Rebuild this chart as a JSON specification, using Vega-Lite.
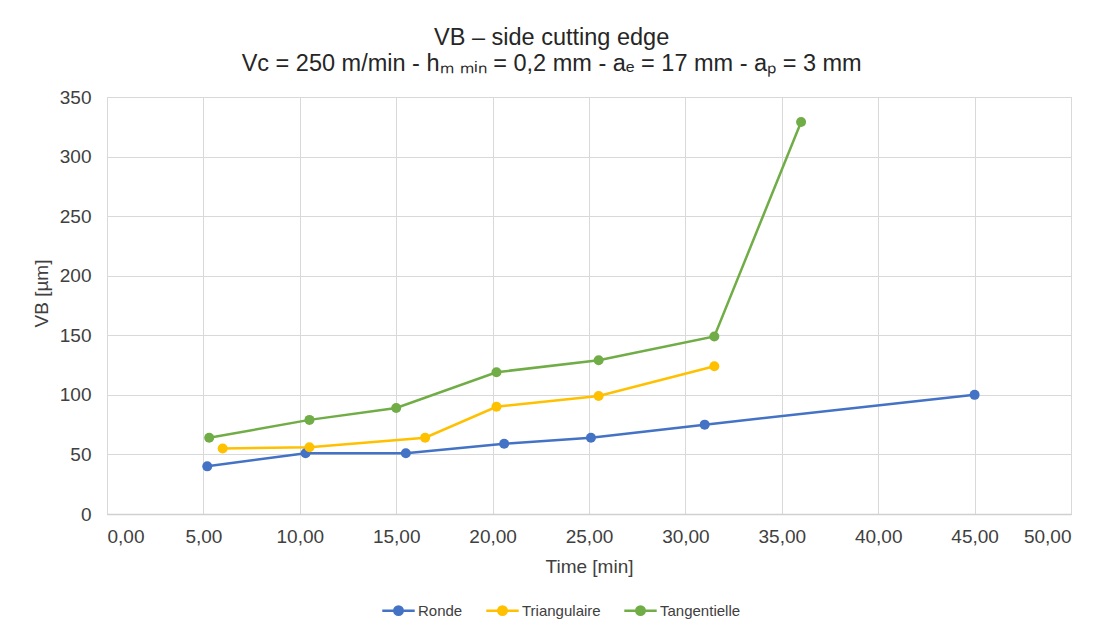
{
  "$schema": "https://vega.github.io/schema/vega-lite/v6.json",
  "width": 964,
  "height": 417,
  "autosize": {"type": "none"},
  "padding": {"left": 107, "top": 97, "right": 43, "bottom": 116},
  "background": "white",
  "title": {
    "text": ["VB – side cutting edge", "Vc = 250 m/min - hₘ ₘᵢₙ = 0,2 mm - aₑ = 17 mm - aₚ = 3 mm"],
    "font": "Liberation Sans",
    "fontSize": 23.5,
    "fontWeight": "normal",
    "color": "#262626",
    "lineHeight": 26,
    "frame": "bounds",
    "anchor": "middle",
    "offset": 13
  },
  "config": {
    "font": "Liberation Sans",
    "view": {"stroke": "#D9D9D9", "strokeWidth": 1},
    "axis": {
      "labelFont": "Liberation Sans",
      "labelFontSize": 19,
      "labelColor": "#404040",
      "titleFont": "Liberation Sans",
      "titleFontSize": 19,
      "titleFontWeight": "normal",
      "titleColor": "#404040",
      "gridColor": "#D9D9D9",
      "gridWidth": 1,
      "ticks": false,
      "domain": false
    }
  },
  "data": {
    "values": [
      {"series": "Ronde", "time": 5.2, "vb": 40},
      {"series": "Ronde", "time": 10.3, "vb": 51},
      {"series": "Ronde", "time": 15.5, "vb": 51},
      {"series": "Ronde", "time": 20.6, "vb": 59},
      {"series": "Ronde", "time": 25.1, "vb": 64},
      {"series": "Ronde", "time": 31.0, "vb": 75},
      {"series": "Ronde", "time": 45.0, "vb": 100},
      {"series": "Triangulaire", "time": 6.0, "vb": 55},
      {"series": "Triangulaire", "time": 10.5, "vb": 56},
      {"series": "Triangulaire", "time": 16.5, "vb": 64},
      {"series": "Triangulaire", "time": 20.2, "vb": 90},
      {"series": "Triangulaire", "time": 25.5, "vb": 99},
      {"series": "Triangulaire", "time": 31.5, "vb": 124},
      {"series": "Tangentielle", "time": 5.3, "vb": 64},
      {"series": "Tangentielle", "time": 10.5, "vb": 79},
      {"series": "Tangentielle", "time": 15.0, "vb": 89},
      {"series": "Tangentielle", "time": 20.2, "vb": 119},
      {"series": "Tangentielle", "time": 25.5, "vb": 129},
      {"series": "Tangentielle", "time": 31.5, "vb": 149},
      {"series": "Tangentielle", "time": 36.0, "vb": 329}
    ]
  },
  "encoding": {
    "x": {
      "field": "time",
      "type": "quantitative",
      "scale": {"domain": [0, 50], "nice": false, "zero": false},
      "axis": {
        "title": "Time [min]",
        "values": [0, 5, 10, 15, 20, 25, 30, 35, 40, 45, 50],
        "labelExpr": "replace(format(datum.value, '.2f'), '.', ',')",
        "labelPadding": 13,
        "titlePadding": 11,
        "domain": true,
        "domainColor": "#D0D0D0",
        "domainWidth": 1.5
      }
    },
    "y": {
      "field": "vb",
      "type": "quantitative",
      "scale": {"domain": [0, 350], "nice": false},
      "axis": {
        "title": "VB [µm]",
        "values": [0, 50, 100, 150, 200, 250, 300, 350],
        "labelPadding": 16,
        "titlePadding": 8,
        "titleY": 196
      }
    },
    "color": {
      "field": "series",
      "type": "nominal",
      "sort": ["Ronde", "Triangulaire", "Tangentielle"],
      "scale": {
        "domain": ["Ronde", "Triangulaire", "Tangentielle"],
        "range": ["#4472C4", "#FFC000", "#70AD47"]
      },
      "legend": {
        "orient": "none",
        "legendX": 274,
        "legendY": 496,
        "direction": "horizontal",
        "title": null,
        "labelFont": "Liberation Sans",
        "labelFontSize": 15,
        "labelColor": "#404040",
        "labelOffset": 2,
        "columnPadding": 18,
        "symbolType": "M-1,0H-0.3M0.3,0H1M-0.26,0A0.26,0.26 0 1,0 0.26,0A0.26,0.26 0 1,0 -0.26,0Z",
        "symbolSize": 1050,
        "symbolStrokeWidth": 2.5,
        "encode": {
          "symbols": {
            "update": {
              "fill": {"scale": "color", "field": "value"},
              "stroke": {"scale": "color", "field": "value"},
              "fillOpacity": {"value": 1},
              "opacity": {"value": 1}
            }
          }
        }
      }
    }
  },
  "layer": [
    {"mark": {"type": "line", "strokeWidth": 2.5}},
    {"mark": {"type": "point", "filled": true, "size": 100, "opacity": 1}}
  ]
}
